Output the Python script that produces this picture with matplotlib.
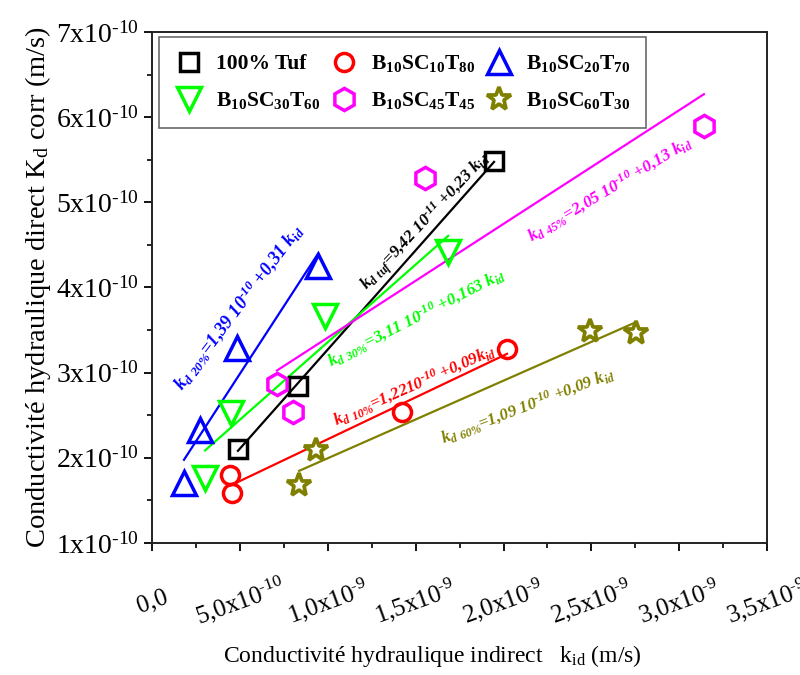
import numpy as np
import matplotlib
matplotlib.use('Agg')
import matplotlib.pyplot as plt
from matplotlib.ticker import MultipleLocator, FixedLocator

plt.rcParams['font.family'] = ['Liberation Serif', 'DejaVu Serif']
plt.rcParams['mathtext.default'] = 'regular'

# kid (m/s) and Kd corr (m/s)
tuf_x = [0.489e-9, 0.831e-9, 1.946e-9]
tuf_y = [2.106e-10, 2.847e-10, 5.482e-10]

sc10_x = [0.444e-9, 0.455e-9, 1.423e-9, 2.020e-9]
sc10_y = [1.80e-10, 1.59e-10, 2.54e-10, 3.28e-10]

sc20_x = [0.182e-9, 0.273e-9, 0.484e-9, 0.945e-9]
sc20_y = [1.706e-10, 2.33e-10, 3.29e-10, 4.25e-10]

sc30_x = [0.302e-9, 0.450e-9, 0.985e-9, 1.685e-9]
sc30_y = [1.76e-10, 2.53e-10, 3.67e-10, 4.42e-10]

sc45_x = [0.711e-9, 0.800e-9, 1.554e-9, 3.140e-9]
sc45_y = [2.87e-10, 2.54e-10, 5.28e-10, 5.90e-10]

sc60_x = [0.837e-9, 0.933e-9, 2.493e-9, 2.755e-9]
sc60_y = [1.68e-10, 2.09e-10, 3.49e-10, 3.47e-10]

series = [
    (tuf_x, tuf_y, 's', 'black', '100% Tuf'),
    (sc10_x, sc10_y, 'o', 'red', r'B$_{10}$SC$_{10}$T$_{80}$'),
    (sc20_x, sc20_y, '^', 'blue', r'B$_{10}$SC$_{20}$T$_{70}$'),
    (sc30_x, sc30_y, 'v', '#00FF00', r'B$_{10}$SC$_{30}$T$_{60}$'),
    (sc45_x, sc45_y, 'h', '#FF00FF', r'B$_{10}$SC$_{45}$T$_{45}$'),
    (sc60_x, sc60_y, '*', '#808000', r'B$_{10}$SC$_{60}$T$_{30}$'),
]

x_ticks = [0, 0.5e-9, 1.0e-9, 1.5e-9, 2.0e-9, 2.5e-9, 3.0e-9, 3.5e-9]
x_labels = ['0,0', r'5,0x10$^{‐10}$', r'1,0x10$^{‐9}$', r'1,5x10$^{‐9}$',
            r'2,0x10$^{‐9}$', r'2,5x10$^{‐9}$', r'3,0x10$^{‐9}$', r'3,5x10$^{‐9}$']
y_ticks = [1e-10, 2e-10, 3e-10, 4e-10, 5e-10, 6e-10, 7e-10]
y_labels = [r'%dx10$^{‐10}$' % i for i in range(1, 8)]

fig = plt.figure(figsize=(8, 6.75), dpi=100)
ax = fig.add_axes([0.19, 0.1956, 0.769, 0.757])

msizes = {'s': 13, 'o': 13, '^': 17, 'v': 17, 'h': 16, '*': 18}
handles = []
for x, y, m, c, lab in series:
    x = np.array(x)
    y = np.array(y)
    # linear fit drawn over the data range
    p = np.polyfit(x, y, 1)
    xf = np.array([x.min(), x.max()])
    ax.plot(xf, np.polyval(p, xf), color=c, lw=1.6, zorder=2)
    face = 'white' if m == '*' else 'none'
    h, = ax.plot(x, y, ls='none', marker=m, ms=msizes[m], mec=c, mfc=face,
                 mew=2.7 if m == '*' else 2.5, label=lab, zorder=3)
    handles.append(h)

# fit equations
tkw = dict(fontweight='bold', fontstyle='italic',
           rotation_mode='anchor', ha='left', va='baseline')
ax.text(0.17e-9, 2.78e-10, r'k$_{d\ 20\%}$=1,39 10$^{‐10}$ +0,31 k$_{id}$',
        color='blue', rotation=53, fontsize=13.3, **tkw)
ax.text(1.225e-9, 3.96e-10, r'k$_{d\ tuf}$=9,42 10$^{‐11}$ +0,23 k$_{id}$',
        color='black', rotation=47, fontsize=12.4, **tkw)
ax.text(1.02e-9, 3.07e-10, r'k$_{d\ 30\%}$=3,11 10$^{‐10}$ +0,163 k$_{id}$',
        color='#00FF00', rotation=27, fontsize=12.4, **tkw)
ax.text(2.16e-9, 4.53e-10, r'k$_{d\ 45\%}$=2,05 10$^{‐10}$ +0,13 k$_{id}$',
        color='#FF00FF', rotation=31, fontsize=12.4, **tkw)
ax.text(1.05e-9, 2.38e-10, r'k$_{d\ 10\%}$=1,2210$^{‐10}$ +0,09k$_{id}$',
        color='red', rotation=24, fontsize=12.2, **tkw)
ax.text(1.655e-9, 2.17e-10, r'k$_{d\ 60\%}$=1,09 10$^{‐10}$ +0,09 k$_{id}$',
        color='#808000', rotation=21, fontsize=12.2, **tkw)

ax.set_xlim(0, 3.5e-9)
ax.set_ylim(1e-10, 7e-10)
ax.xaxis.set_major_locator(FixedLocator(x_ticks))
ax.set_xticklabels(x_labels)
ax.xaxis.set_minor_locator(MultipleLocator(0.25e-9))
ax.yaxis.set_major_locator(FixedLocator(y_ticks))
ax.set_yticklabels(y_labels)
ax.yaxis.set_minor_locator(MultipleLocator(0.5e-10))

ax.tick_params(which='major', direction='out', length=6, width=1.3, labelsize=20)
ax.tick_params(which='minor', direction='out', length=3.5, width=1.2)
ax.tick_params(axis='x', pad=36, labelsize=18)
for lbl in ax.get_xticklabels():
    lbl.set_rotation(20)
    lbl.set_ha('center')
    lbl.set_va('center')
for s in ax.spines.values():
    s.set_linewidth(1.4)
    s.set_color('#222222')

ax.set_xlabel(r'Conductivité hydraulique indirect   k$_{id}$ (m/s)', fontsize=17, labelpad=9)
ax.xaxis.label.set_x(0.455)
ax.set_ylabel(r'Conductivité hydraulique direct K$_{d}$ corr (m/s)', fontsize=20.5, labelpad=2)

# legend filled row by row as in the figure
order = [0, 3, 1, 4, 2, 5]
leg = ax.legend([handles[i] for i in order], [series[i][4] for i in order],
                loc='upper left', bbox_to_anchor=(0.011, 0.99), ncol=3,
                borderaxespad=0, frameon=True, fancybox=False,
                prop={'weight': 'bold', 'size': 15.5}, handletextpad=0.6,
                columnspacing=0.45, labelspacing=0.75, borderpad=0.75,
                markerscale=1.0, handlelength=1.3)
leg.get_frame().set_edgecolor('#444444')
leg.get_frame().set_linewidth(1.2)

fig.savefig('out.png', dpi=100)
